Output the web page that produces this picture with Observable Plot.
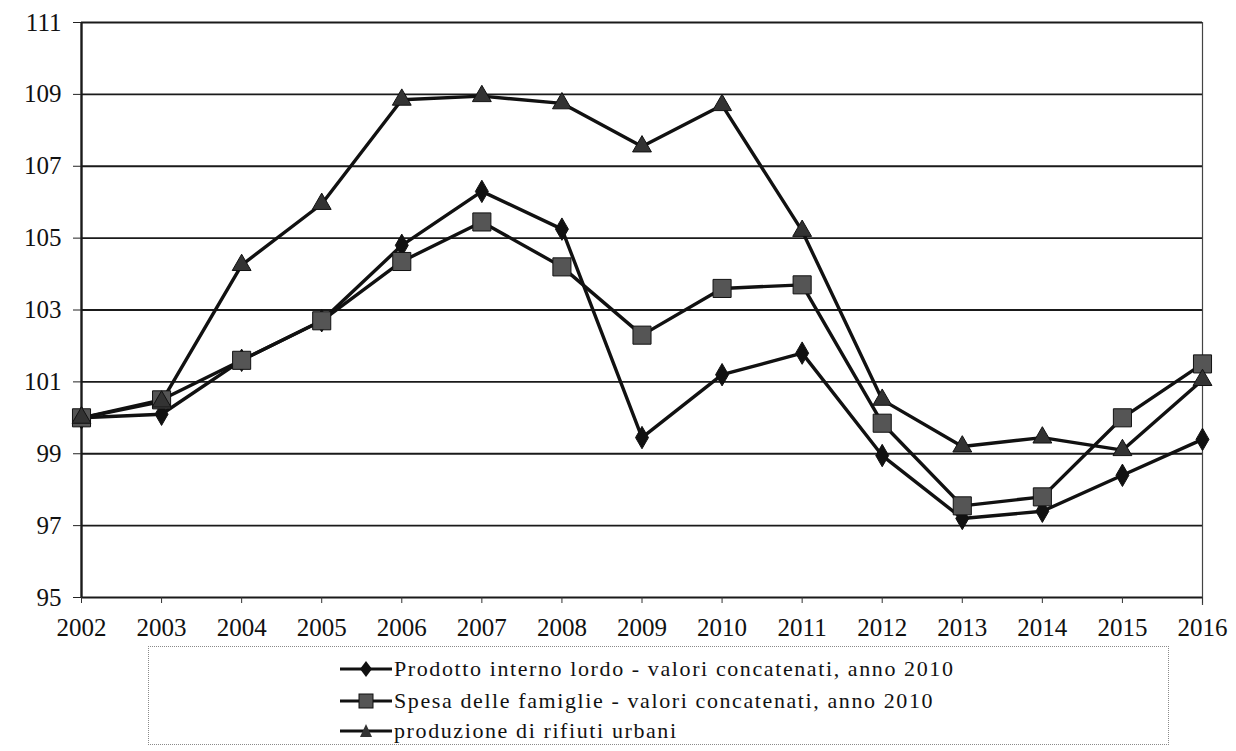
<!DOCTYPE html>
<html>
<head>
<meta charset="utf-8">
<script src="https://cdn.jsdelivr.net/npm/d3@7"></script>
<script src="https://cdn.jsdelivr.net/npm/@observablehq/plot@0.6"></script>
<style>
  html, body { margin: 0; padding: 0; background: #fff; }
  #chart { width: 1236px; height: 646px; }
  #legend {
    position: relative;
    margin-left: 148px;
    width: 1021px;
    height: 99px;
    border: 1px dotted #8a8a8a;
    box-sizing: border-box;
    font-family: "Liberation Serif", "DejaVu Serif", serif;
    font-size: 22px;
    letter-spacing: 1.6px;
    color: #111;
  }
  .item { position: absolute; left: 191px; display: flex; align-items: center; height: 28px; white-space: nowrap; }
  .item svg { margin-right: 1px; flex: none; }
</style>
</head>
<body>
<div id="chart"></div>
<div id="legend"></div>
<script>
const years = [2002, 2003, 2004, 2005, 2006, 2007, 2008, 2009, 2010, 2011, 2012, 2013, 2014, 2015, 2016];
const pil     = [100.0, 100.1, 101.6, 102.7, 104.8, 106.3, 105.25, 99.45, 101.2, 101.8, 98.95, 97.2, 97.4, 98.4, 99.4];
const spesa   = [100.0, 100.5, 101.6, 102.7, 104.35, 105.45, 104.2, 102.3, 103.6, 103.7, 99.85, 97.55, 97.8, 100.0, 101.5];
const rifiuti = [100.0, 100.45, 104.25, 105.95, 108.85, 108.95, 108.75, 107.55, 108.7, 105.2, 100.5, 99.2, 99.45, 99.1, 101.05];
const yTicks = [95, 97, 99, 101, 103, 105, 107, 109, 111];
const seriesNames = [
  "Prodotto interno lordo - valori concatenati, anno 2010",
  "Spesa delle famiglie - valori concatenati, anno 2010",
  "produzione di rifiuti urbani"
];
const seriesValues = [pil, spesa, rifiuti];
const symbols = ["diamond", "square", "triangle"];
const fills = ["#111", "#555", "#333"];
const radii = [6.8, 10.2, 7];

const rows = [];
seriesValues.forEach((vals, i) => {
  vals.forEach((v, j) => rows.push({year: years[j], value: v, idx: i}));
});

const font = "Liberation Serif, DejaVu Serif, serif";

const chart = Plot.plot({
  width: 1236,
  height: 646,
  marginLeft: 81,
  marginRight: 34,
  marginTop: 22,
  marginBottom: 49,
  style: {fontFamily: font, background: "#fff", color: "#111"},
  x: {type: "linear", domain: [2002, 2016], axis: null},
  y: {domain: [95, 111], axis: null},
  marks: [
    Plot.ruleY(yTicks, {stroke: "#1a1a1a", strokeWidth: 1.8}),
    Plot.ruleX([2002], {stroke: "#1a1a1a", strokeWidth: 2.4}),
    Plot.ruleX([2016], {stroke: "#444", strokeWidth: 1.2, insetBottom: -8}),
    Plot.axisY({ticks: yTicks, tickSize: 8, tickPadding: 12, fontSize: 25, tickFormat: d => String(d), stroke: "#222", label: null}),
    Plot.axisX({ticks: years, tickSize: 6, tickPadding: 15, fontSize: 25, tickFormat: d => String(d), stroke: "#333", label: null}),
    ...seriesValues.map((vals, i) =>
      Plot.line(rows.filter(r => r.idx === i), {x: "year", y: "value", stroke: "#111", strokeWidth: 3.4})
    ),
    ...seriesValues.map((vals, i) =>
      Plot.dot(rows.filter(r => r.idx === i), {x: "year", y: "value", symbol: symbols[i], r: radii[i], fill: fills[i], stroke: "#111", strokeWidth: 1})
    )
  ]
});
document.getElementById("chart").appendChild(chart);

// legend
const legend = document.getElementById("legend");
const shapes = {
  diamond: '<path d="M26,6 L32,14 L26,22 L20,14 Z" fill="#111"/>',
  square: '<rect x="19" y="7" width="14" height="14" fill="#555" stroke="#111"/>',
  triangle: '<path d="M26,7 L32,20 L20,20 Z" fill="#333"/>'
};
seriesNames.forEach((name, i) => {
  const div = document.createElement("div");
  div.className = "item";
  div.style.top = [8, 40, 70][i] + "px";
  div.innerHTML = '<svg width="53" height="28"><line x1="0" y1="14" x2="52" y2="14" stroke="#111" stroke-width="3"/>' +
    shapes[symbols[i]] + '</svg><span>' + name + '</span>';
  legend.appendChild(div);
});
</script>
</body>
</html>
